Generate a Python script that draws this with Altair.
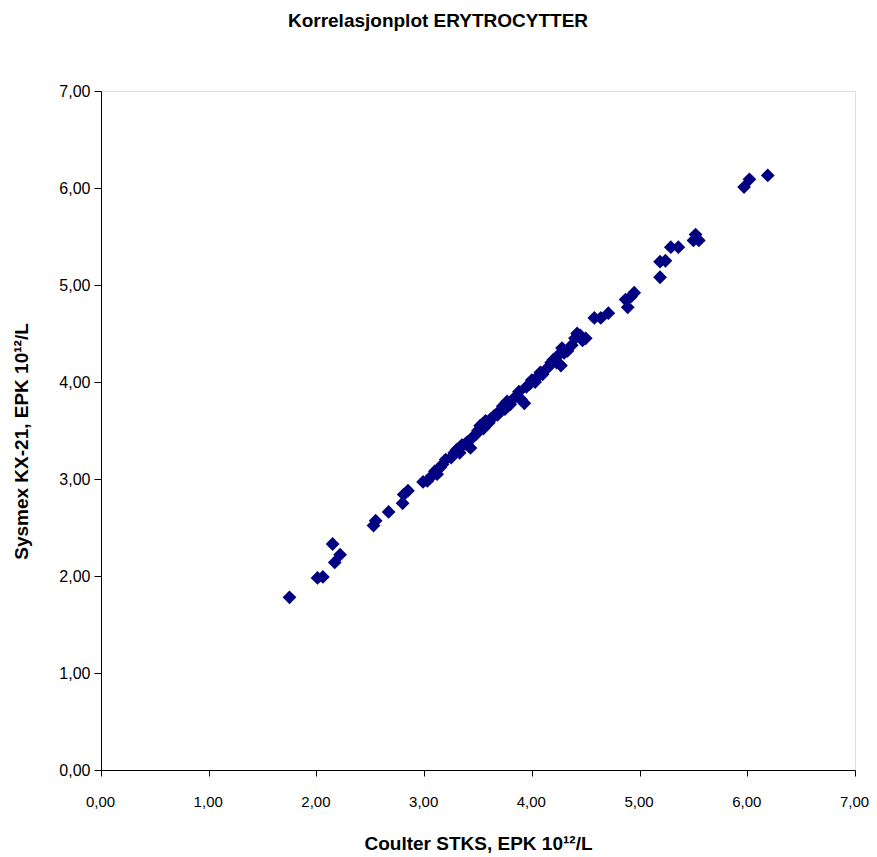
import altair as alt
import pandas as pd

title_text = "Korrelasjonplot ERYTROCYTTER"
x_title = "Coulter STKS, EPK 10¹²/L"
y_title = "Sysmex KX-21, EPK 10¹²/L"
tick_values = [0, 1, 2, 3, 4, 5, 6, 7]

coulter = [1.75, 2.01, 2.06, 2.15, 2.17, 2.22, 2.53, 2.55, 2.67, 2.80, 2.81, 2.85,
           2.99, 3.03, 3.07, 3.10, 3.12, 3.15, 3.17, 3.20, 3.25, 3.28, 3.30, 3.33,
           3.35, 3.38, 3.40, 3.43, 3.45, 3.48, 3.50, 3.52, 3.55, 3.57, 3.60, 3.62,
           3.65, 3.68, 3.70, 3.73, 3.75, 3.77, 3.80, 3.85, 3.88, 3.90, 3.93, 3.95,
           3.98, 4.00, 4.03, 4.05, 4.08, 4.10, 4.15, 4.18, 4.20, 4.23, 4.25, 4.27,
           4.28, 4.30, 4.33, 4.37, 4.40, 4.42, 4.45, 4.47, 4.50,
           4.58, 4.64, 4.71, 4.87, 4.89, 4.92, 4.95, 5.19, 5.19, 5.24, 5.29, 5.36,
           5.50, 5.52, 5.55, 5.97, 6.02, 6.19]
sysmex = [1.78, 1.98, 1.99, 2.33, 2.14, 2.22, 2.52, 2.57, 2.66, 2.75, 2.84, 2.88,
          2.97, 2.98, 3.03, 3.08, 3.05, 3.12, 3.15, 3.20, 3.22, 3.27, 3.30, 3.27,
          3.35, 3.36, 3.38, 3.32, 3.43, 3.46, 3.50, 3.55, 3.52, 3.60, 3.58, 3.62,
          3.65, 3.66, 3.70, 3.75, 3.72, 3.80, 3.77, 3.85, 3.90, 3.82, 3.78, 3.95,
          3.98, 4.02, 4.00, 4.05, 4.10, 4.08, 4.15, 4.20, 4.23, 4.20, 4.28, 4.17,
          4.35, 4.30, 4.32, 4.38, 4.45, 4.50, 4.48, 4.43, 4.45,
          4.66, 4.66, 4.71, 4.85, 4.77, 4.88, 4.92, 5.08, 5.24, 5.25, 5.39, 5.39,
          5.46, 5.52, 5.46, 6.01, 6.09, 6.13]

df = pd.DataFrame({"coulter": coulter, "sysmex": sysmex})

FONT = "Arial, Liberation Sans"
label_expr = "replace(format(datum.value, '.2f'), '.', ',')"

chart = alt.Chart(df).mark_point(
    shape="diamond", filled=True, color="#000080", size=190, opacity=1
).encode(
    x=alt.X("coulter:Q", scale=alt.Scale(domain=[0, 7], nice=False, zero=True),
            axis=alt.Axis(values=tick_values, labelExpr=label_expr, title=x_title,
                          grid=False, domainColor="black", tickColor="black",
                          tickSize=6, labelPadding=18, labelFontSize=15,
                          labelOffset=-1,
                          labelFlush=False, labelOverlap=False,
                          labelColor="black", labelFont=FONT,
                          titleFont=FONT, titleFontSize=19, titleFontWeight="bold",
                          titleColor="black", titleY=73, titleBaseline="middle")),
    y=alt.Y("sysmex:Q", scale=alt.Scale(domain=[0, 7], nice=False, zero=True),
            axis=alt.Axis(values=tick_values, labelExpr=label_expr, title=y_title,
                          grid=False, domainColor="black", tickColor="black",
                          tickSize=7, labelPadding=4, labelFontSize=16,
                          labelFlush=False, labelOverlap=False,
                          labelColor="black", labelFont=FONT,
                          titleFont=FONT, titleFontSize=19, titleFontWeight="bold",
                          titleColor="black", titleX=-80, titleY=350,
                          titleAngle=-90, titleBaseline="middle", titleAlign="center")),
).properties(
    width=754,
    height=679,
    title=alt.TitleParams(title_text, font=FONT, fontSize=19, fontWeight="bold",
                          color="black", anchor="middle", offset=52, dx=-40),
    autosize=alt.AutoSizeParams(type="none"),
    padding={"left": 93, "top": 83, "right": 14, "bottom": 86},
).configure_view(
    stroke="#808080", strokeWidth=2
).configure(background="white")

chart.save("out.html", embed_options={"renderer": "svg", "actions": False})
